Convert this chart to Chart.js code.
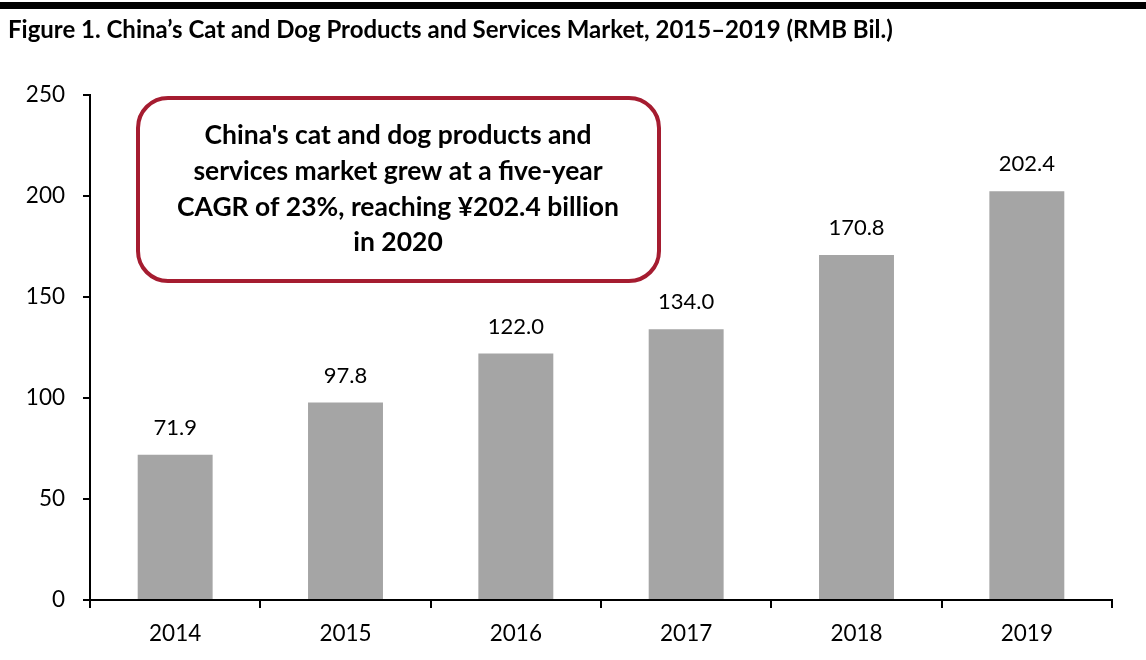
<!DOCTYPE html>
<html><head><meta charset="utf-8">
<script src="https://cdn.jsdelivr.net/npm/chart.js@4.4.1/dist/chart.umd.min.js"></script>
<style>html,body{margin:0;padding:0;background:#fff;}#wrap{width:1146px;height:660px;}</style>
</head><body><div id="wrap"><canvas id="c" width="1146" height="660"></canvas></div>
<script>
const categories = ['2014', '2015', '2016', '2017', '2018', '2019'];
const marketValues = [71.9, 97.8, 122.0, 134.0, 170.8, 202.4];
const yTickValues = [0, 50, 100, 150, 200, 250];
const titleText = 'Figure 1. China\u2019s Cat and Dog Products and Services Market, 2015\u20132019 (RMB Bil.)';
const noteLines = ["China's cat and dog products and", "services market grew at a five-year", "CAGR of 23%, reaching \u00a5202.4 billion", "in 2020"];

const FONT = 'Lato, "Open Sans", sans-serif';

function fitFont(ctx, text, weight, targetWidth) {
  ctx.font = weight + ' 100px ' + FONT;
  const w = ctx.measureText(text).width;
  return 100 * targetWidth / w;
}

const decorPlugin = {
  id: 'decor',
  beforeDraw(chart) {
    const ctx = chart.ctx;
    ctx.save();
    ctx.fillStyle = '#000';
    ctx.fillRect(0, 2, 1146, 7);
    const fs = fitFont(ctx, titleText, 'bold', 885);
    ctx.font = 'bold ' + fs + 'px ' + FONT;
    ctx.textAlign = 'left';
    ctx.textBaseline = 'alphabetic';
    ctx.fillText(titleText, 8, 38);
    ctx.restore();
  },
  afterDatasetsDraw(chart) {
    const ctx = chart.ctx;
    const meta = chart.getDatasetMeta(0);
    ctx.save();
    ctx.fillStyle = '#000';
    ctx.font = '22px ' + FONT;
    ctx.textAlign = 'center';
    ctx.textBaseline = 'middle';
    meta.data.forEach((bar, i) => {
      ctx.fillText(marketValues[i].toFixed(1), bar.x, bar.y - 27);
    });
    ctx.restore();
  },
  afterDraw(chart) {
    const ctx = chart.ctx;
    ctx.save();
    ctx.beginPath();
    ctx.roundRect(138, 98, 521, 183, 30);
    ctx.fillStyle = '#fff';
    ctx.fill();
    ctx.lineWidth = 4;
    ctx.strokeStyle = '#a51c30';
    ctx.stroke();
    const fs = fitFont(ctx, noteLines[2], 'bold', 442);
    ctx.font = 'bold ' + fs + 'px ' + FONT;
    ctx.fillStyle = '#000';
    ctx.textAlign = 'center';
    ctx.textBaseline = 'middle';
    const ys = [135, 171, 207, 242];
    noteLines.forEach((l, i) => ctx.fillText(l, 398, ys[i]));
    ctx.restore();
  }
};

new Chart(document.getElementById('c'), {
  type: 'bar',
  data: {
    labels: categories,
    datasets: [{
      data: marketValues,
      backgroundColor: '#a5a5a5',
      borderWidth: 0,
      categoryPercentage: 1,
      barPercentage: 0.44
    }]
  },
  options: {
    responsive: false,
    devicePixelRatio: 1,
    animation: false,
    layout: { padding: { top: 95, right: 34, left: 0, bottom: 0 } },
    plugins: { legend: { display: false }, tooltip: { enabled: false }, title: { display: false } },
    scales: {
      x: {
        grid: { offset: true, drawOnChartArea: false, drawTicks: true, tickLength: 8, color: '#000', lineWidth: 2 },
        border: { color: '#000', width: 2 },
        ticks: { color: '#000', font: { family: FONT, size: 22.5 }, padding: 12 },
        afterFit(s) { s.height = 60; }
      },
      y: {
        min: 0, max: 250,
        afterBuildTicks(s) { s.ticks = yTickValues.map(v => ({ value: v })); },
        grid: { drawOnChartArea: false, drawTicks: true, tickLength: 7, color: '#000', lineWidth: 2 },
        border: { color: '#000', width: 2 },
        ticks: { color: '#000', font: { family: FONT, size: 22.5 }, padding: 18 },
        afterFit(s) { s.width = 90; }
      }
    }
  },
  plugins: [decorPlugin]
});
</script></body></html>
